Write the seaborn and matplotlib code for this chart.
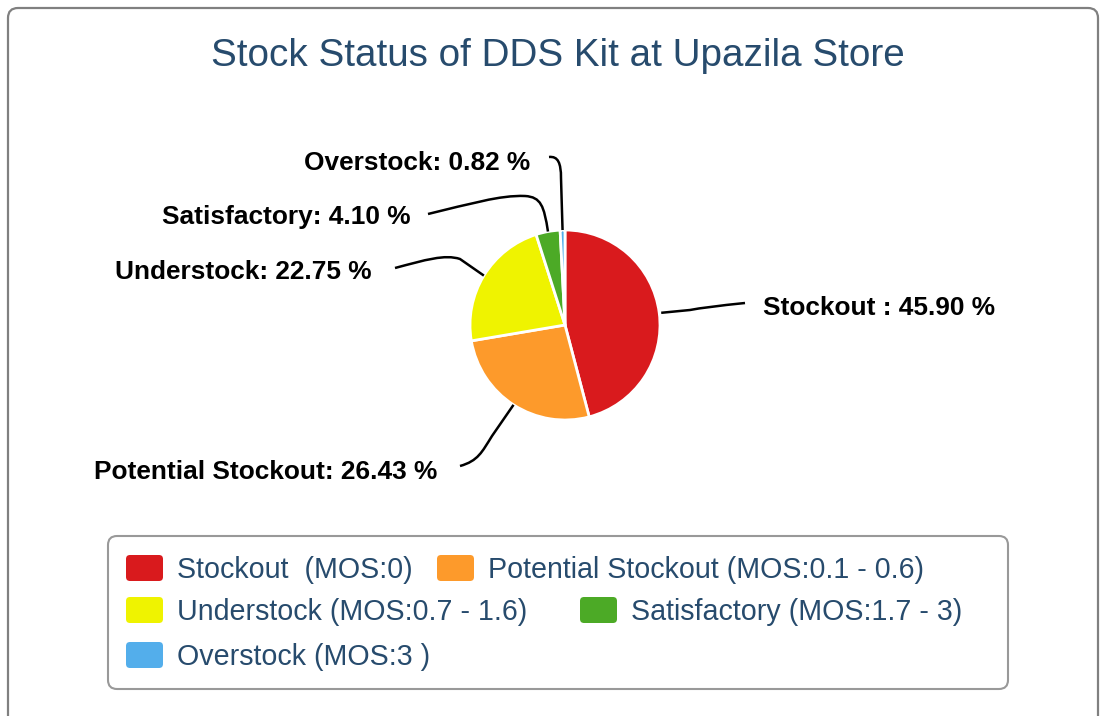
import numpy as np
import matplotlib
matplotlib.use("Agg")
import matplotlib.pyplot as plt
import seaborn as sns
from matplotlib.patches import FancyBboxPatch, PathPatch
from matplotlib.path import Path

# ---- data ----
categories = ["Stockout", "Potential Stockout", "Understock", "Satisfactory", "Overstock"]
values = [45.90, 26.43, 22.75, 4.10, 0.82]
label_names = ["Stockout ", "Potential Stockout", "Understock", "Satisfactory", "Overstock"]
legend_labels = ["Stockout  (MOS:0)", "Potential Stockout (MOS:0.1 - 0.6)",
                 "Understock (MOS:0.7 - 1.6)", "Satisfactory (MOS:1.7 - 3)",
                 "Overstock (MOS:3 )"]
colors = ["#D91A1D", "#FD9A2B", "#EFF300", "#4CAA26", "#53AEEB"]
title = "Stock Status of DDS Kit at Upazila Store"

sns.set_theme(style="white")
plt.rcParams['font.family'] = ['Liberation Sans', 'DejaVu Sans']

W, H = 1102, 716
fig = plt.figure(figsize=(W / 100, H / 100), dpi=100)
ax = fig.add_axes([0, 0, 1, 1])
ax.set_xlim(0, W)
ax.set_ylim(0, H)
ax.set_aspect('equal')
ax.axis('off')

def Y(y):
    return H - y

TEXT_C = "#274B6D"

# outer border
ax.add_patch(FancyBboxPatch((8, Y(740)), 1090, 732,
                            boxstyle="round,pad=0,rounding_size=10",
                            fc="white", ec="#808080", lw=1.6, zorder=0))

ax.text(558, Y(56), title, ha='center', va='center', fontsize=27.8, color=TEXT_C)

cx, cy, R = 565, Y(325), 95
wedges, _ = ax.pie(values, colors=colors, startangle=90, counterclock=False,
                   center=(cx, cy), radius=R, frame=True,
                   wedgeprops=dict(edgecolor='white', linewidth=2))
ax.set_xlim(0, W)
ax.set_ylim(0, H)
ax.axis('off')

def edge_point(w):
    a = np.deg2rad((w.theta1 + w.theta2) / 2)
    return cx + R * np.cos(a), cy + R * np.sin(a)

# label positions (pixels, top-left origin)
label_pos = {
    "Stockout": (763, 308, 'left'),
    "Potential Stockout": (437, 472, 'right'),
    "Understock": (372, 272, 'right'),
    "Satisfactory": (411, 217, 'right'),
    "Overstock": (530, 163, 'right'),
}
C4 = Path.CURVE4
conn = {
    "Stockout": ([(745, 303), (705, 307), (690, 310)],
                 [Path.MOVETO, Path.CURVE3, Path.CURVE3]),
    "Potential Stockout": ([(460, 466), (478, 461), (482, 452), (492, 436)],
                           [Path.MOVETO, C4, C4, C4]),
    "Understock": ([(395, 268), (425, 260), (445, 254), (460, 259)],
                   [Path.MOVETO, C4, C4, C4]),
    "Satisfactory": ([(428, 214), (470, 204), (500, 195), (525, 196),
                      (541, 197), (544, 206)],
                     [Path.MOVETO, C4, C4, C4, C4, C4]),
    "Overstock": ([(549, 157), (558, 156), (561, 163), (561, 178)],
                  [Path.MOVETO, C4, C4, C4]),
}

for w, cat, name, v in zip(wedges, categories, label_names, values):
    lx, ly, ha = label_pos[cat]
    ax.text(lx, Y(ly), f"{name}: {v:.2f} %", ha=ha, va='center', fontsize=18.9,
            fontweight='bold', color='black')
    ex, ey = edge_point(w)
    pts, codes = conn[cat]
    verts = [(x, Y(y)) for x, y in pts] + [(ex + (2 if cat == "Stockout" else 0), ey)]
    codes = list(codes) + [Path.LINETO]
    if cat == "Satisfactory":
        codes[-1] = C4
    ax.add_patch(PathPatch(Path(verts, codes), fc='none', ec='black', lw=1.8, zorder=3))

# legend box
ax.add_patch(FancyBboxPatch((108, Y(689)), 900, 153,
                            boxstyle="round,pad=0,rounding_size=9",
                            fc="white", ec="#999999", lw=1.5, zorder=1))
legend_pos = [(126, 568), (437, 568), (126, 610), (580, 610), (126, 655)]
for (sx, sy), lab, col in zip(legend_pos, legend_labels, colors):
    ax.add_patch(FancyBboxPatch((sx, Y(sy) - 13), 37, 26,
                                boxstyle="round,pad=0,rounding_size=4",
                                fc=col, ec='none', zorder=2))
    ax.text(sx + 51, Y(sy + 2), lab, ha='left', va='center', fontsize=20.6,
            color=TEXT_C, zorder=3)

fig.savefig("out.png", dpi=100)
